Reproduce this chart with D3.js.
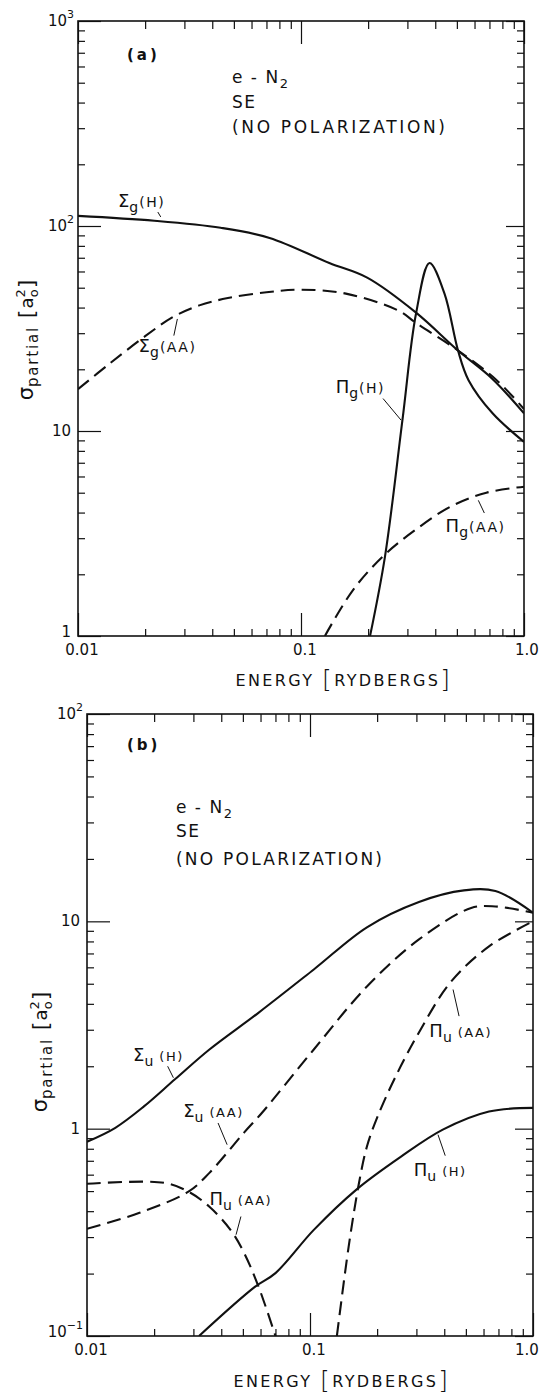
<!DOCTYPE html>
<html>
<head>
<meta charset="utf-8">
<script src="https://cdn.jsdelivr.net/npm/d3@7"></script>
<style>
  body { margin: 0; background: #fff; }
  svg { display: block; }
  text { font-family: "DejaVu Sans", sans-serif; fill: #111; }
</style>
</head>
<body>
<svg id="chart" width="543" height="1397"></svg>
<script>
// ---- Axis ticks and labels -------------------------------------------
const energyTicks = [0.01, 0.1, 1.0];
const energyTickLabels = ["0.01", "0.1", "1.0"];

const gDecades = [1, 10, 100, 1000];
const gDecadeBase = ["1", "10", "10", "10"];
const gDecadeExp = ["", "", "2", "3"];

const uDecades = [0.1, 1, 10, 100];
const uDecadeBase = ["10", "1", "10", "10"];
const uDecadeExp = ["\u22121", "", "", "2"];

// ---- Panel (a): gerade partial cross sections (a0^2) vs energy (Ry) ----
const sigmaG_H_E   = [0.01, 0.022, 0.0436, 0.0723, 0.134, 0.198, 0.328, 0.506, 0.72, 1.0];
const sigmaG_H_val = [112, 106, 98, 87.5, 66, 56, 37.8, 24.7, 18, 12.2];

const sigmaG_AA_E   = [0.01, 0.014, 0.02, 0.0267, 0.035, 0.047, 0.07, 0.1, 0.159, 0.273, 0.33, 0.506, 0.75, 1.0];
const sigmaG_AA_val = [16, 21.5, 29, 36, 41, 44.5, 47.5, 48.9, 46.8, 38.7, 33.5, 24.7, 17.8, 12.8];

const piG_H_E   = [0.204, 0.238, 0.285, 0.328, 0.377, 0.44, 0.506, 0.564, 0.723, 1.0];
const piG_H_val = [1, 2.44, 11.3, 37.4, 66, 46.8, 24.7, 17.7, 12.2, 8.85];

const piG_AA_E   = [0.128, 0.172, 0.238, 0.328, 0.469, 0.678, 1.0];
const piG_AA_val = [1, 1.69, 2.5, 3.31, 4.28, 5.0, 5.35];

// ---- Panel (b): ungerade partial cross sections ------------------------
const sigmaU_H_E   = [0.01, 0.0134, 0.018, 0.0248, 0.0354, 0.0589, 0.104, 0.18, 0.308, 0.49, 0.678, 1.0];
const sigmaU_H_val = [0.865, 1.01, 1.28, 1.73, 2.41, 3.63, 5.86, 9.36, 12.4, 14.1, 14.0, 11.0];

const sigmaU_AA_E   = [0.01, 0.0172, 0.0285, 0.0354, 0.0506, 0.0608, 0.104, 0.18, 0.308, 0.528, 0.678, 1.0];
const sigmaU_AA_val = [0.329, 0.393, 0.497, 0.612, 0.957, 1.19, 2.41, 4.85, 8.18, 11.6, 11.8, 11.0];

const piU_AA_lowE   = [0.01, 0.0222, 0.0285, 0.0354, 0.044, 0.0506, 0.0589, 0.07];
const piU_AA_lowVal = [0.542, 0.548, 0.497, 0.42, 0.325, 0.252, 0.172, 0.1];

const piU_AA_highE   = [0.132, 0.149, 0.166, 0.18, 0.2, 0.24, 0.308, 0.426, 0.635, 1.0];
const piU_AA_highVal = [0.1, 0.269, 0.55, 0.82, 1.13, 1.75, 2.91, 5.07, 7.57, 10];

const piU_H_E   = [0.0318, 0.0564, 0.07, 0.104, 0.161, 0.256, 0.394, 0.635, 1.0];
const piU_H_val = [0.1, 0.172, 0.201, 0.325, 0.507, 0.733, 0.989, 1.21, 1.26];

// ---- Drawing -----------------------------------------------------------
const svg = d3.select("#chart");
const defs = svg.append("defs");
const INK = "#111";
const PAGE_W = 543;

function zip(es, vs) { return es.map((e, i) => ({ e, v: vs[i] })); }

function drawPanel(p) {
  const g = svg.append("g");
  const x = d3.scaleLog().domain([0.01, 1]).range([p.left, p.right]);
  const y = d3.scaleLog().domain(p.yDomain).range([p.bottom, p.top]);
  const W = p.right - p.left, H = p.bottom - p.top;

  defs.append("clipPath").attr("id", "clip-" + p.id)
    .append("rect").attr("x", p.left).attr("y", p.top).attr("width", W).attr("height", H);

  // inward-pointing ticks on all four sides
  const isMajor = v => Math.abs(Math.log10(v) - Math.round(Math.log10(v))) < 1e-9;
  const xMinor = x.ticks().filter(v => !isMajor(v));
  const xMajor = x.ticks().filter(isMajor);
  const yMinor = y.ticks().filter(v => !isMajor(v));
  const yMajor = y.ticks().filter(isMajor);

  function tickLayer(axis, tx, ty) {
    const a = g.append("g").attr("transform", `translate(${tx},${ty})`).call(axis);
    a.select(".domain").remove();
    a.selectAll("line").attr("stroke", INK).attr("stroke-width", 1.2);
    a.selectAll("text").remove();
  }
  tickLayer(d3.axisBottom(x).tickValues(xMinor).tickSize(-7), 0, p.bottom);
  tickLayer(d3.axisBottom(x).tickValues(xMajor).tickSize(-23), 0, p.bottom);
  tickLayer(d3.axisTop(x).tickValues(xMinor).tickSize(-8), 0, p.top);
  tickLayer(d3.axisTop(x).tickValues(xMajor).tickSize(-23), 0, p.top);
  tickLayer(d3.axisLeft(y).tickValues(yMinor).tickSize(-7), p.left, 0);
  tickLayer(d3.axisLeft(y).tickValues(yMajor).tickSize(-23), p.left, 0);
  tickLayer(d3.axisRight(y).tickValues(yMinor).tickSize(-7), p.right, 0);
  tickLayer(d3.axisRight(y).tickValues(yMajor).tickSize(-18), p.right, 0);

  // frame
  g.append("rect").attr("x", p.left).attr("y", p.top).attr("width", W).attr("height", H)
    .attr("fill", "none").attr("stroke", INK).attr("stroke-width", 1.6);

  // x tick labels (kept inside the page at the right edge)
  g.selectAll(".xlab").data(energyTicks).enter().append("text")
    .attr("x", d => Math.min(x(d) + 4, PAGE_W - 16)).attr("y", p.bottom + 19)
    .attr("text-anchor", "middle").attr("font-size", 15)
    .text((d, i) => energyTickLabels[i]);

  // y tick labels (powers of ten); the lowest one sits a little higher
  p.decades.forEach((d, i) => {
    const t = g.append("text").attr("x", p.left - (p.decadeExp[i] ? 4 : 7))
      .attr("y", y(d) + (i === 0 ? 1 : 5))
      .attr("text-anchor", "end").attr("font-size", 15);
    t.append("tspan").text(p.decadeBase[i]);
    if (p.decadeExp[i]) t.append("tspan").attr("font-size", 11).attr("dy", -8).text(p.decadeExp[i]);
  });

  // x axis title
  const xt = g.append("text").attr("x", p.xTitleX).attr("y", p.xTitleY)
    .attr("text-anchor", "middle").attr("font-size", 16).attr("letter-spacing", 2.4);
  xt.append("tspan").text("ENERGY ");
  xt.append("tspan").attr("font-size", 25).attr("font-weight", 300).attr("dy", 2).text("[");
  xt.append("tspan").attr("dy", -2).text("RYDBERGS");
  xt.append("tspan").attr("font-size", 25).attr("font-weight", 300).attr("dy", 2).text("]");

  // y axis title
  const yt = g.append("text").attr("transform", `translate(${p.yTitleX},${p.yTitleY}) rotate(-90)`)
    .attr("text-anchor", "middle").attr("font-size", 21);
  yt.append("tspan").text("σ");
  yt.append("tspan").attr("font-size", 15).attr("letter-spacing", 1.8).attr("dy", 5).text("partial");
  yt.append("tspan").attr("font-size", 22).attr("dx", 8).attr("dy", -4).text("[");
  yt.append("tspan").attr("font-size", 18).attr("dx", 1).attr("dy", -1).text("a");
  yt.append("tspan").attr("font-size", 13).attr("dy", -8).text("2");
  yt.append("tspan").attr("font-size", 13).attr("dx", -8).attr("dy", 13).text("o");
  yt.append("tspan").attr("font-size", 22).attr("dx", 1).attr("dy", -4).text("]");

  // panel captions
  g.append("text").attr("x", p.left + p.capDx).attr("y", p.top + p.capDy)
    .attr("font-size", 15).attr("font-weight", 600).attr("letter-spacing", 3).text(p.caption);
  const inf = g.append("g").attr("font-size", 17);
  const l1 = inf.append("text").attr("x", p.infoX).attr("y", p.infoY[0]).attr("letter-spacing", 1.5);
  l1.append("tspan").text("e - N");
  l1.append("tspan").attr("font-size", 13).attr("dy", 5).text("2");
  inf.append("text").attr("x", p.infoX).attr("y", p.infoY[1]).attr("letter-spacing", 1.5).text("SE");
  inf.append("text").attr("x", p.infoX).attr("y", p.infoY[2])
    .attr("textLength", p.infoW).attr("lengthAdjust", "spacing").text("(NO POLARIZATION)");

  // curves
  const line = d3.line().x(d => x(d.e)).y(d => y(d.v)).curve(d3.curveCatmullRom.alpha(0.5));
  const cg = g.append("g").attr("clip-path", `url(#clip-${p.id})`);
  p.series.forEach(s => {
    cg.append("path").datum(zip(s.e, s.v)).attr("d", line)
      .attr("fill", "none").attr("stroke", INK).attr("stroke-width", 2.1)
      .attr("stroke-linecap", "butt")
      .attr("stroke-dasharray", s.dashed ? "14,7" : null);
  });

  // curve labels with leader lines (placed in data coordinates)
  p.labels.forEach(l => {
    g.append("line")
      .attr("x1", x(l.lead[0][0])).attr("y1", y(l.lead[0][1]))
      .attr("x2", x(l.lead[1][0])).attr("y2", y(l.lead[1][1]))
      .attr("stroke", INK).attr("stroke-width", 1);
    const t = g.append("text").attr("x", x(l.e)).attr("y", y(l.v)).attr("font-size", 18);
    t.append("tspan").text(l.sym);
    t.append("tspan").attr("font-size", 14).attr("dy", 5).text(l.sub);
    t.append("tspan").attr("font-size", p.tailSize).attr("dx", p.tailGap).attr("dy", -5)
      .attr("letter-spacing", 1.5).text(l.tail);
  });
}

drawPanel({
  id: "a", left: 78, right: 524, top: 21, bottom: 636, yDomain: [1, 1000],
  decades: gDecades, decadeBase: gDecadeBase, decadeExp: gDecadeExp,
  xTitleX: 344, xTitleY: 686, yTitleX: 33, yTitleY: 340,
  caption: "(a)", capDx: 49, capDy: 39,
  infoX: 232, infoY: [83, 108, 133], infoW: 213,
  tailSize: 14, tailGap: 1,
  series: [
    { e: sigmaG_H_E, v: sigmaG_H_val, dashed: false },
    { e: sigmaG_AA_E, v: sigmaG_AA_val, dashed: true },
    { e: piG_H_E, v: piG_H_val, dashed: false },
    { e: piG_AA_E, v: piG_AA_val, dashed: true }
  ],
  labels: [
    { sym: "Σ", sub: "g", tail: "(H)", e: 0.0151, v: 124, lead: [[0.0228, 117], [0.0235, 110.7]] },
    { sym: "Σ", sub: "g", tail: "(AA)", e: 0.0187, v: 24.2, lead: [[0.0279, 35.2], [0.0269, 29.2]] },
    { sym: "Π", sub: "g", tail: "(H)", e: 0.143, v: 15.3, lead: [[0.2333, 14.4], [0.281, 11.3]] },
    { sym: "Π", sub: "g", tail: "(AA)", e: 0.445, v: 3.2, lead: [[0.624, 4.59], [0.664, 3.98]] }
  ]
});

drawPanel({
  id: "b", left: 87, right: 533, top: 714, bottom: 1336, yDomain: [0.1, 100],
  decades: uDecades, decadeBase: uDecadeBase, decadeExp: uDecadeExp,
  xTitleX: 342, xTitleY: 1387, yTitleX: 47, yTitleY: 1052,
  caption: "(b)", capDx: 40, capDy: 36,
  infoX: 176, infoY: [813, 837, 865], infoW: 206,
  tailSize: 13, tailGap: 6,
  series: [
    { e: sigmaU_H_E, v: sigmaU_H_val, dashed: false },
    { e: sigmaU_AA_E, v: sigmaU_AA_val, dashed: true },
    { e: piU_AA_lowE, v: piU_AA_lowVal, dashed: true },
    { e: piU_AA_highE, v: piU_AA_highVal, dashed: true },
    { e: piU_H_E, v: piU_H_val, dashed: false }
  ],
  labels: [
    { sym: "Σ", sub: "u", tail: "(H)", e: 0.0161, v: 2.11, lead: [[0.023, 2.0], [0.0244, 1.76]] },
    { sym: "Σ", sub: "u", tail: "(AA)", e: 0.027, v: 1.14, lead: [[0.0387, 1.065], [0.0425, 0.837]] },
    { sym: "Π", sub: "u", tail: "(AA)", e: 0.0354, v: 0.43, lead: [[0.049, 0.377], [0.0466, 0.308]] },
    { sym: "Π", sub: "u", tail: "(AA)", e: 0.343, v: 2.78, lead: [[0.438, 4.69], [0.466, 3.49]] },
    { sym: "Π", sub: "u", tail: "(H)", e: 0.292, v: 0.593, lead: [[0.375, 0.935], [0.404, 0.741]] }
  ]
});
</script>
</body>
</html>
